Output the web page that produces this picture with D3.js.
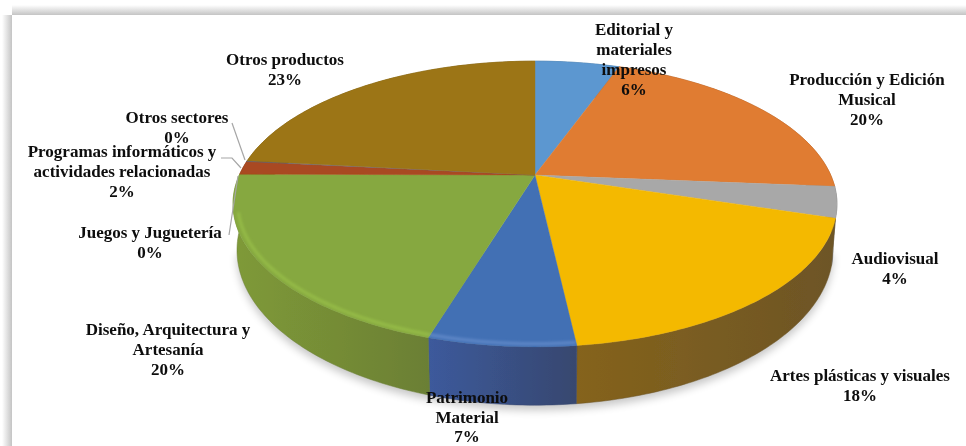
<!DOCTYPE html>
<html><head><meta charset="utf-8">
<script src="https://cdn.jsdelivr.net/npm/d3@7/dist/d3.min.js"></script>
<style>html,body{margin:0;padding:0;background:#fff}svg{display:block}</style>
</head><body><svg id="c" width="966" height="446"></svg>
<script>
const categories = ["Editorial y materiales impresos","Producción y Edición Musical","Audiovisual","Artes plásticas y visuales","Patrimonio Material","Diseño, Arquitectura y Artesanía","Juegos y Juguetería","Programas informáticos y actividades relacionadas","Otros sectores","Otros productos"];
const values = [5.5,20.8,3.5,18.4,6.5,20.3,0.1,1.5,0.1,23.3];
const percentLabels = ["6%","20%","4%","18%","7%","20%","0%","2%","0%","23%"];
const labelLines = [["Editorial y","materiales","impresos"],["Producción y Edición","Musical"],["Audiovisual"],["Artes plásticas y visuales"],["Patrimonio","Material"],["Diseño, Arquitectura y","Artesanía"],["Juegos y Juguetería"],["Programas informáticos y","actividades relacionadas"],["Otros sectores"],["Otros productos"]];

const topColors = ["#5b97d0","#e07b30","#a8a8a8","#f4b906","#4270b4","#86a83f","#86a83f","#a94a20","#66667e","#9c7514"];
const sideColors = [["#3d6a95","#3d6a95"],["#9a5522","#9a5522"],["#55555f","#6f6f6f"],["#85631c","#6d5526"],["#3c5a9c","#37476f"],["#7f9a38","#6b7f34"],["#7f9a38","#7f9a38"],["#7a3517","#7a3517"],["#55556a","#55556a"],["#6f5410","#6f5410"]];
const rimColors = ["#7fb4e4","#f09a58","#c8c8c8","#f0c018","#7ea0dc","#a6d050","#a6d050","#c86a3c","#8a8aa0","#b89030"];
const labelPos = [[634,35],[867,85],[895,264],[860,381],[467,403],[168,335],[150,238],[122,157],[177,123],[285,65]];
const leaders = {6:[[229,235],[238,176]],7:[[221,158],[232,158],[241,168]],8:[[232,123],[245,160]]};

const svg = d3.select("#c");
const defs = svg.append("defs");
const p = 0.203;
const project = (hubX,hubY,a,b) => t => {
  const w = 1 + p*Math.cos(t);
  return [hubX + a*Math.sin(t)/w, hubY - b*Math.cos(t)/w];
};
const topP = project(535,175,295.7,137);
const botP = project(535,218.6,291.8,148.7);
const arcs = d3.pie().sort(null).value(d=>d)(values);
const line = d3.line();
const ts = (a0,a1) => { const n = Math.max(2,Math.ceil((a1-a0)*60)); return d3.range(n+1).map(i=>a0+(a1-a0)*i/n); };

// card frame with soft edge
const gt = defs.append("linearGradient").attr("id","gt").attr("x1",0).attr("y1",0).attr("x2",0).attr("y2",1);
gt.append("stop").attr("offset",0).attr("stop-color","#fff");
gt.append("stop").attr("offset",1).attr("stop-color","#c4c4c4");
const gl = defs.append("linearGradient").attr("id","gl");
gl.append("stop").attr("offset",0).attr("stop-color","#fff");
gl.append("stop").attr("offset",1).attr("stop-color","#c4c4c4");
svg.append("rect").attr("x",12).attr("y",5).attr("width",954).attr("height",10).attr("fill","url(#gt)");
svg.append("rect").attr("x",2).attr("y",15).attr("width",10).attr("height",431).attr("fill","url(#gl)");

defs.append("filter").attr("id","b1").attr("x","-10%").attr("y","-10%").attr("width","120%").attr("height","120%").append("feGaussianBlur").attr("stdDeviation",0.7);
defs.append("filter").attr("id","b2").attr("x","-10%").attr("y","-20%").attr("width","120%").attr("height","140%").append("feGaussianBlur").attr("stdDeviation",1.4);
defs.append("filter").attr("id","bs").attr("x","-10%").attr("y","-20%").attr("width","120%").attr("height","140%").append("feGaussianBlur").attr("stdDeviation",4);
defs.append("filter").attr("id","bt").append("feGaussianBlur").attr("stdDeviation",0.3);

// soft shadow under the pie
svg.append("path").attr("fill","#000").attr("opacity",0.22).attr("filter","url(#bs)")
  .attr("d",line(ts(Math.PI/2+0.2,Math.PI*1.5-0.2).map(t=>{const q=botP(t);return [q[0],q[1]+5];}))+"Z");

const pie = svg.append("g").attr("filter","url(#b1)");

// side wall, one strip per slice
arcs.forEach((d,i)=>{
  const id="s"+i;
  const g=defs.append("linearGradient").attr("id",id);
  g.append("stop").attr("offset",0).attr("stop-color",sideColors[i][0]);
  g.append("stop").attr("offset",1).attr("stop-color",sideColors[i][1]);
  const t=ts(d.startAngle,d.endAngle);
  const pts=t.map(topP).concat(t.slice().reverse().map(botP));
  pie.append("path").attr("d",line(pts)+"Z").attr("fill",`url(#${id})`).attr("stroke",sideColors[i][1]).attr("stroke-width",0.5);
});
// top face
arcs.forEach((d,i)=>{
  const t=ts(d.startAngle,d.endAngle);
  const pts=[[535,175]].concat(t.map(topP));
  pie.append("path").attr("d",line(pts)+"Z").attr("fill",topColors[i]).attr("stroke",topColors[i]).attr("stroke-width",0.4);
});
// bevel highlight just inside the front rim
const inner = project(535,175,291,134.5);
arcs.forEach((d,i)=>{
  const t=ts(d.startAngle,d.endAngle).filter(a=>a>Math.PI*0.96&&a<Math.PI*1.42);
  if(t.length<2) return;
  svg.append("path").attr("d",line(t.map(inner))).attr("fill","none")
    .attr("stroke",rimColors[i]).attr("stroke-width",2.5).attr("opacity",0.6).attr("filter","url(#b2)");
});

// leader lines
Object.entries(leaders).forEach(([k,pts])=>{
  svg.append("path").attr("d",line(pts)).attr("fill","none").attr("stroke","#a6a6a6").attr("stroke-width",1.2);
});

// labels
const labels = svg.append("g").attr("font-family","'Liberation Serif',serif").attr("font-weight","bold").attr("font-size",17).attr("fill","#0a0a0a").attr("text-anchor","middle").attr("filter","url(#bt)");
categories.forEach((c,i)=>{
  const [x,y]=labelPos[i];
  const ls=labelLines[i].concat([percentLabels[i]]);
  const lh = i===4 ? 19.5 : 20;
  const tx=labels.append("text").attr("data-category",c);
  ls.forEach((s,j)=>tx.append("tspan").attr("x",x).attr("y",y+j*lh).text(s));
});
</script></body></html>
